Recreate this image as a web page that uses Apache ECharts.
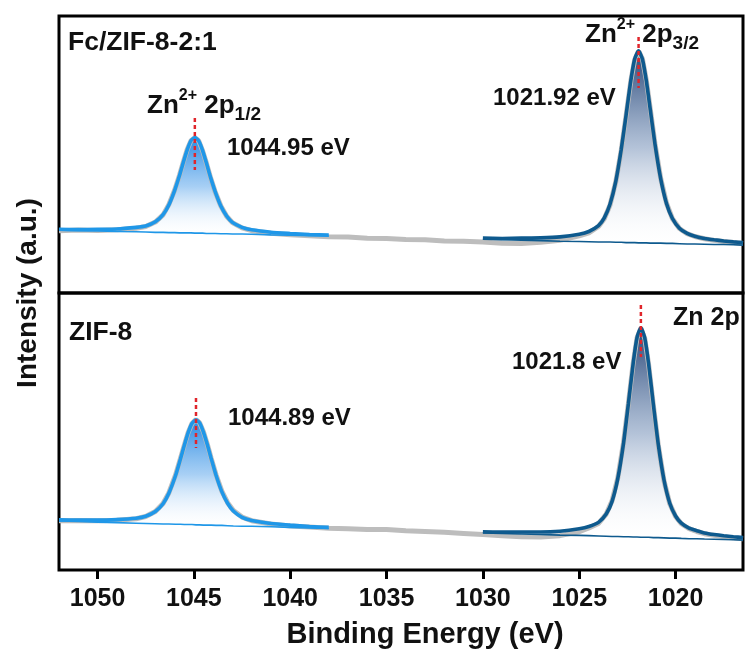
<!DOCTYPE html>
<html>
<head>
<meta charset="utf-8">
<title>Zn 2p XPS</title>
<script src="https://cdn.jsdelivr.net/npm/echarts@6/dist/echarts.min.js"></script>
<style>
  html, body { margin: 0; padding: 0; background: #ffffff; }
  #chart { width: 745px; height: 655px; }
</style>
</head>
<body>
<div id="chart"></div>
<script>
// ---------------- data ----------------
// Binding-energy axis (eV), drawn high -> low
const energyRange = [1016.5, 1052];
const tickValues = [1050, 1045, 1040, 1035, 1030, 1025, 1020];

// Fit windows for the two spin-orbit components (eV)
const window12 = [1038, 1052];
const window32 = [1016.5, 1030];

// Fc/ZIF-8-2:1 : measured spectrum
const fcEnergy = [1052, 1051, 1050, 1049, 1048, 1047.5, 1047, 1046.6, 1046.3, 1046.0,
  1045.75, 1045.55, 1045.35, 1045.15, 1044.95, 1044.75, 1044.55, 1044.35, 1044.15, 1043.9,
  1043.6, 1043.3, 1043.0, 1042.5, 1042, 1041, 1040, 1039, 1038, 1037,
  1036, 1035, 1034, 1033, 1032, 1031, 1030, 1029, 1028, 1027,
  1026, 1025, 1024.5, 1024, 1023.7, 1023.4, 1023.1, 1022.82, 1022.57, 1022.32,
  1022.12, 1021.92, 1021.72, 1021.52, 1021.32, 1021.07, 1020.77, 1020.47, 1020.17, 1019.8,
  1019.4, 1019, 1018.5, 1018, 1017.5, 1017, 1016.5];
const fcRaw = [22.5, 22.7, 22.6, 22.8, 23.4, 24.0, 25.6, 28.2, 31.9, 37.1,
  42.4, 47.2, 51.7, 55.0, 56.1, 54.9, 51.4, 46.9, 42.0, 36.6,
  31.4, 27.7, 25.4, 23.5, 22.5, 21.6, 21.0, 20.7, 20.3, 20.2,
  19.8, 19.7, 19.3, 19.2, 18.8, 18.7, 18.4, 18.0, 17.9, 18.3,
  19.0, 20.6, 21.7, 24.0, 26.8, 31.8, 40.2, 51.5, 63.9, 76.6,
  84.2, 87.3, 84.5, 76.9, 66.8, 53.9, 41.3, 32.4, 26.9, 23.3,
  21.4, 20.4, 19.6, 19.0, 18.6, 18.2, 17.9];
// Fc/ZIF-8-2:1 : fitted background and components (points of fcEnergy inside each window)
const fcBackground12 = [22.7, 22.5, 22.4, 22.2, 22.1, 22.0, 21.9, 21.9, 21.8, 21.8,
  21.7, 21.7, 21.7, 21.7, 21.6, 21.6, 21.6, 21.5, 21.5, 21.5,
  21.4, 21.4, 21.3, 21.3, 21.2, 21.0, 20.9, 20.7, 20.6];
const fcPeak12 = [0.3, 0.4, 0.6, 0.9, 1.6, 2.2, 3.8, 6.4, 10.0, 15.2,
  20.6, 25.4, 29.9, 33.3, 34.5, 33.3, 29.9, 25.4, 20.6, 15.2,
  10.0, 6.4, 4.2, 2.4, 1.6, 0.95, 0.6, 0.42, 0.3];
const fcBackground32 = [19.4, 19.2, 19.1, 18.9,
  18.7, 18.6, 18.5, 18.4, 18.4, 18.4, 18.3, 18.3, 18.2, 18.2,
  18.2, 18.1, 18.1, 18.1, 18.0, 18.0, 18.0, 17.9, 17.9, 17.8,
  17.7, 17.7, 17.6, 17.5, 17.5, 17.4, 17.3];
const fcPeak32 = [0.4, 0.5, 0.7, 1.0,
  1.55, 2.6, 3.7, 5.9, 8.7, 13.7, 22.1, 33.5, 45.9, 58.6,
  66.3, 69.3, 66.3, 58.6, 48.6, 35.8, 23.2, 14.4, 9.1, 5.6,
  3.8, 2.8, 2.1, 1.7, 1.3, 1.05, 0.9];
const fcCentres = [1044.95, 1021.92];
const fcMarkerSpan = [[63.2, 44.4], [92.4, 74.0]];

// ZIF-8 : measured spectrum
const zifEnergy = [1052, 1051, 1050, 1049, 1048, 1047.5, 1047, 1046.6, 1046.3, 1045.95,
  1045.7, 1045.5, 1045.3, 1045.1, 1044.89, 1044.7, 1044.5, 1044.3, 1044.1, 1043.85,
  1043.55, 1043.25, 1042.95, 1042.5, 1042, 1041, 1040, 1039, 1038, 1037,
  1036, 1035, 1034, 1033, 1032, 1031, 1030, 1029, 1028, 1027,
  1026, 1025, 1024.5, 1024, 1023.6, 1023.3, 1023.0, 1022.7, 1022.45, 1022.2,
  1022.0, 1021.8, 1021.6, 1021.4, 1021.15, 1020.9, 1020.6, 1020.3, 1020.0, 1019.7,
  1019.3, 1018.9, 1018.5, 1018, 1017.5, 1017, 1016.5];
const zifRaw = [17.8, 17.9, 17.8, 18.0, 18.5, 19.3, 21.1, 24.0, 27.8, 34.3,
  40.2, 45.0, 49.6, 52.9, 54.3, 53.1, 49.8, 45.3, 40.3, 34.4,
  28.5, 24.3, 21.5, 19.1, 17.8, 16.6, 15.9, 15.5, 15.1, 14.9,
  14.6, 14.6, 14.2, 13.9, 13.6, 13.2, 12.8, 12.4, 12.0, 11.9,
  12.4, 13.8, 15.2, 16.8, 20.2, 24.9, 33.2, 46.0, 60.0, 74.6,
  83.8, 87.3, 83.6, 74.2, 59.3, 45.2, 32.2, 23.9, 19.3, 16.7,
  14.9, 13.9, 13.1, 12.5, 12.0, 11.6, 11.3];
const zifBackground12 = [17.7, 17.5, 17.3, 17.1, 16.9, 16.8, 16.7, 16.6, 16.6, 16.5,
  16.5, 16.4, 16.4, 16.4, 16.3, 16.3, 16.2, 16.2, 16.2, 16.1,
  16.1, 16.0, 15.9, 15.8, 15.8, 15.6, 15.4, 15.2, 15.0];
const zifPeak12 = [0.4, 0.5, 0.7, 1.1, 1.8, 2.6, 4.4, 7.3, 11.1, 17.6,
  23.5, 28.5, 33.1, 36.5, 37.9, 36.8, 33.5, 29.0, 24.0, 18.1,
  12.2, 8.1, 5.4, 3.2, 2.1, 1.2, 0.8, 0.5, 0.4];
const zifBackground32 = [13.4, 13.2, 13.0, 12.8,
  12.6, 12.5, 12.4, 12.3, 12.2, 12.1, 12.1, 12.0, 12.0, 11.9,
  11.9, 11.8, 11.8, 11.8, 11.7, 11.7, 11.6, 11.5, 11.5, 11.4,
  11.3, 11.3, 11.2, 11.1, 11.0, 10.9, 10.8];
const zifPeak32 = [0.4, 0.5, 0.7, 0.9,
  1.4, 2.4, 3.3, 4.9, 8.0, 12.6, 20.9, 33.8, 47.9, 62.7,
  72.0, 75.6, 72.0, 62.7, 47.9, 33.8, 20.9, 12.6, 8.0, 5.5,
  3.8, 2.9, 2.2, 1.7, 1.35, 1.1, 0.9];
const zifCentres = [1044.89, 1021.8];
const zifMarkerSpan = [[62.1, 44.0], [95.7, 76.9]];

// ---------------- styling ----------------
const FONT = 'Liberation Sans, Arial, Helvetica, sans-serif';
const INK = '#111111';
const light = { line: '#1f97e8', top: 'rgba(28,132,224,0.95)', mid: 'rgba(95,168,236,0.55)', bottom: 'rgba(255,255,255,0.05)' };
const dark  = { line: '#0e5a8e', top: 'rgba(28,60,110,0.95)',  mid: 'rgba(105,135,178,0.5)', bottom: 'rgba(255,255,255,0.05)' };

function fade(c) {
  return new echarts.graphic.LinearGradient(0, 0, 0, 1, [
    { offset: 0, color: c.top },
    { offset: 0.5, color: c.mid },
    { offset: 1, color: c.bottom }
  ]);
}

const pair = (xs, ys) => xs.map((x, k) => [x, ys[k]]);
const inside = (xs, w) => xs.filter(x => x >= w[0] && x <= w[1]);
const envelope = (bg, pk) => bg.map((b, k) => b + pk[k]);

function panelSeries(idx, energy, raw, bg12, pk12, bg32, pk32, centres, spans) {
  const e12 = inside(energy, window12);
  const e32 = inside(energy, window32);
  const axes = { xAxisIndex: idx, yAxisIndex: idx, silent: true, animation: false };
  const list = [];
  const comps = [[e12, bg12, pk12, light], [e32, bg32, pk32, dark]];
  // shaded area between each component and its background
  comps.forEach(([xs, bg, pk, c]) => {
    const total = envelope(bg, pk);
    list.push(Object.assign({
      type: 'custom', z: 1, data: [[xs[0], bg[0]]],
      renderItem: (params, api) => {
        const upper = xs.map((x, k) => api.coord([x, total[k]]));
        const lower = xs.map((x, k) => api.coord([x, bg[k]])).reverse();
        return { type: 'polygon', shape: { points: upper.concat(lower) }, style: { fill: fade(c) } };
      }
    }, axes));
  });
  // measured spectrum
  list.push(Object.assign({ type: 'line', symbol: 'none', data: pair(energy, raw), z: 2,
    lineStyle: { color: '#bdbdbd', width: 5 } }, axes));
  // background lines and component envelopes
  comps.forEach(([xs, bg, pk, c]) => {
    list.push(Object.assign({ type: 'line', symbol: 'none', data: pair(xs, bg), z: 3,
      lineStyle: { color: c.line, width: 1.6 } }, axes));
    list.push(Object.assign({ type: 'line', symbol: 'none', data: pair(xs, envelope(bg, pk)), z: 4,
      smooth: 0.2, lineStyle: { color: c.line, width: 3.6 } }, axes));
  });
  // dashed peak-position markers
  centres.forEach((c, k) => {
    list.push(Object.assign({ type: 'line', symbol: 'none', data: [[c, spans[k][0]], [c, spans[k][1]]], z: 6,
      lineStyle: { color: '#e0252b', width: 2.5, type: [4, 3] } }, axes));
  });
  return list;
}

const baseText = { fontFamily: FONT, fontWeight: 'bold', fill: INK };
function label(x, y, text, size, align) {
  const a = align || 'left';
  return { type: 'text', x: x, y: y, z: 50, silent: true,
    style: Object.assign({ text: text, fontSize: size, align: a, verticalAlign: 'middle',
      textAlign: a, textVerticalAlign: 'middle' }, baseText) };
}
function orbital(x, y, sub) {
  return { type: 'text', x: x, y: y, z: 50, silent: true,
    style: Object.assign({
      text: '{b|Zn}{s|2+}{b| 2p}{d|' + sub + '}',
      fontSize: 26, align: 'left', verticalAlign: 'middle', textAlign: 'left', textVerticalAlign: 'middle',
      rich: {
        b: Object.assign({ fontSize: 26, lineHeight: 36 }, baseText),
        s: Object.assign({ fontSize: 16, lineHeight: 16, verticalAlign: 'top' }, baseText),
        d: Object.assign({ fontSize: 19, lineHeight: 19, verticalAlign: 'bottom' }, baseText)
      }
    }, baseText) };
}

const chart = echarts.init(document.getElementById('chart'), null, { renderer: 'canvas' });

const xCommon = { type: 'value', min: energyRange[0], max: energyRange[1], inverse: true,
  splitLine: { show: false } };

chart.setOption({
  animation: false,
  backgroundColor: '#ffffff',
  grid: [
    { left: 59, right: 2, top: 16, height: 277, show: true, borderColor: '#000', borderWidth: 3 },
    { left: 59, right: 2, top: 293, height: 277, show: true, borderColor: '#000', borderWidth: 3 }
  ],
  xAxis: [
    Object.assign({ gridIndex: 0, show: false }, xCommon),
    Object.assign({ gridIndex: 1,
      axisLine: { show: false },
      axisTick: { show: true, inside: false, length: 9, customValues: tickValues,
        lineStyle: { color: '#000', width: 3 } },
      axisLabel: { show: true, customValues: tickValues, margin: 17, fontSize: 25,
        fontWeight: 'bold', fontFamily: FONT, color: INK, formatter: v => String(v) }
    }, xCommon)
  ],
  yAxis: [
    { type: 'value', gridIndex: 0, min: 0, max: 100, show: false, splitLine: { show: false } },
    { type: 'value', gridIndex: 1, min: 0, max: 100, show: false, splitLine: { show: false } }
  ],
  series: [].concat(
    panelSeries(0, fcEnergy, fcRaw, fcBackground12, fcPeak12, fcBackground32, fcPeak32, fcCentres, fcMarkerSpan),
    panelSeries(1, zifEnergy, zifRaw, zifBackground12, zifPeak12, zifBackground32, zifPeak32, zifCentres, zifMarkerSpan)
  ),
  graphic: [
    { type: 'text', x: 28, y: 293, rotation: Math.PI / 2, z: 50, silent: true,
      style: Object.assign({ text: 'Intensity (a.u.)', fontSize: 28, align: 'center', verticalAlign: 'middle',
        textAlign: 'center', textVerticalAlign: 'middle' }, baseText) },
    label(425, 635, 'Binding Energy (eV)', 29, 'center'),
    label(68, 43, 'Fc/ZIF-8-2:1', 26.5),
    label(69, 333, 'ZIF-8', 26.5),
    orbital(147, 106, '1/2'),
    orbital(585, 35, '3/2'),
    label(227, 148, fcCentres[0] + ' eV', 24),
    label(493, 98, fcCentres[1] + ' eV', 24),
    label(228, 418, zifCentres[0] + ' eV', 24),
    label(512, 362, zifCentres[1] + ' eV', 24),
    label(673, 318, 'Zn 2p', 25)
  ]
});
</script>
</body>
</html>
